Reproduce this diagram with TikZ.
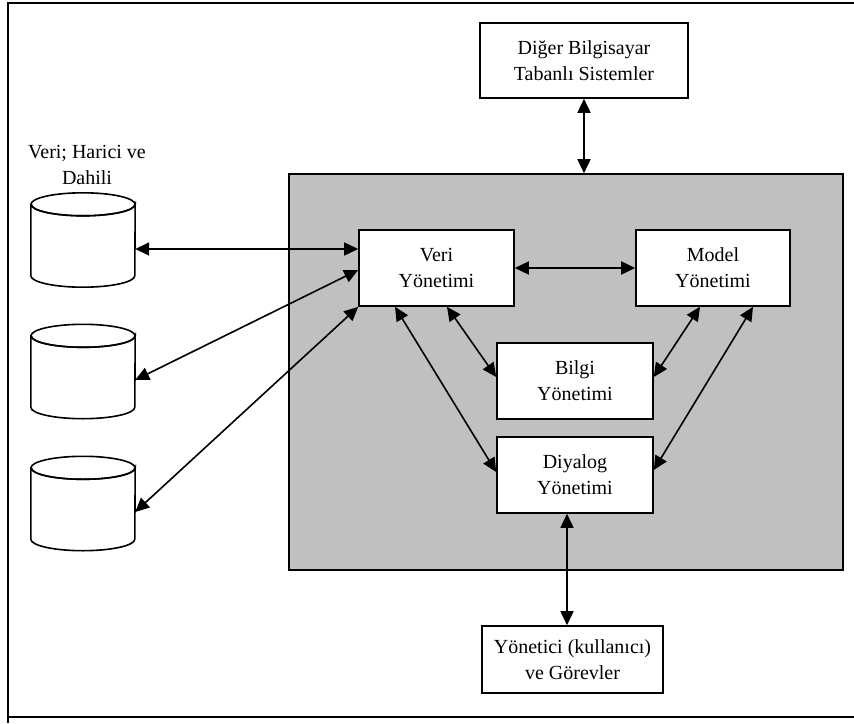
\documentclass[tikz,border=0pt]{standalone}
\usepackage{fontspec}
\setmainfont{Liberation Serif}
\usetikzlibrary{arrows.meta,calc}
\definecolor{panelgray}{HTML}{C0C0C0}
\begin{document}
\begin{tikzpicture}[x=1pt,y=-1pt,
  txt/.style={font=\fontsize{20}{26}\selectfont, align=center},
  box/.style={txt, draw, line width=1.6pt, fill=white, inner sep=0pt},
  store/.style={inner sep=0pt, minimum width=104pt, minimum height=94pt},
  link/.style={line width=1.6pt, {Triangle[length=14pt,width=13pt]}-{Triangle[length=14pt,width=13pt]}}]
\useasboundingbox (0,0) rectangle (854,723);

% page frame
\draw[line width=1.6pt] (854,3) -- (8,3) -- (8,723);
\draw[line width=1.6pt] (8,717) -- (854,717);

% decision support system panel
\node[draw, fill=panelgray, line width=1.6pt, inner sep=0pt,
      minimum width=554pt, minimum height=396pt] (dss) at (566,372) {};

% components
\node[box, minimum width=155pt, minimum height=76pt] (veri)    at (436.5,268) {Veri\\Yönetimi};
\node[box, minimum width=154pt, minimum height=76pt] (model)   at (713,268)   {Model\\Yönetimi};
\node[box, minimum width=156pt, minimum height=76pt] (bilgi)   at (575,381)   {Bilgi\\Yönetimi};
\node[box, minimum width=156pt, minimum height=76pt] (diyalog) at (575,475)   {Diyalog\\Yönetimi};
\node[box, minimum width=208pt, minimum height=75pt] (diger)   at (584,60.5)  {Diğer Bilgisayar\\Tabanlı Sistemler};
\node[box, minimum width=181pt, minimum height=67pt] (user)    at (572.5,659.5) {Yönetici (kullanıcı)\\ve Görevler};

% data stores
\node[txt] (lbl) at (87,165) {Veri; Harici ve\\Dahili};
\node[store] (db1) at (83,240) {};
\node[store] (db2) at (83,371.5) {};
\node[store] (db3) at (83,503.5) {};
\foreach \s in {db1,db2,db3}{
  \draw[fill=white, line width=1.6pt]
    ($(\s.north west)+(0,11.5)$) -- ($(\s.south west)+(0,-11.5)$)
    arc[start angle=180, end angle=0, x radius=52, y radius=11.5]
    -- ($(\s.north east)+(0,11.5)$)
    arc[start angle=0, end angle=180, x radius=52, y radius=11.5] -- cycle;
  \draw[line width=1.6pt] ($(\s.north)+(0,11.5)$) ellipse[x radius=52, y radius=11.5];
}

% connectors
\draw[link] ($(db1.east)+(0,9)$) -- ($(veri.west)+(0,-19)$);
\draw[link] ($(db2.east)+(0,8.5)$) -- ($(veri.west)+(0,2)$);
\draw[link] ($(db3.east)+(0,8.5)$) -- (veri.south west);
\draw[link] (veri.east) -- (model.west);
\draw[link] ($(veri.south)+(-41.5,0)$) -- ($(diyalog.west)+(0,-3)$);
\draw[link] ($(veri.south)+(10.5,0)$) -- ($(bilgi.west)+(0,-4)$);
\draw[link] ($(model.south)+(-13,0)$) -- ($(bilgi.east)+(0,-4)$);
\draw[link] ($(model.south)+(40,0)$) -- ($(diyalog.east)+(0,-5)$);
\draw[link] (diger.south) -- (diger.south |- dss.north);
\coordinate (dyl) at ($(diyalog.south)+(-8,0)$);
\draw[link] (dyl) -- (dyl |- user.north);
\end{tikzpicture}
\end{document}
